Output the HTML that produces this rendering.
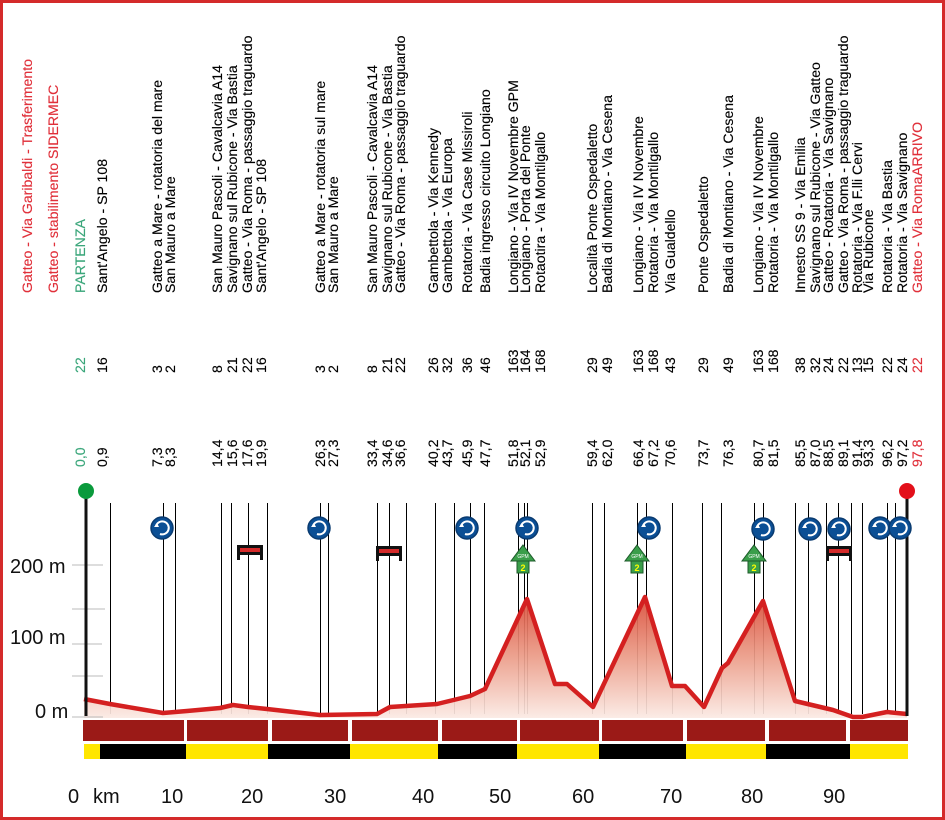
<!DOCTYPE html>
<html><head><meta charset="utf-8"><style>
html,body{margin:0;padding:0;background:#fff}
svg{display:block}
.t{font-family:"Liberation Sans",sans-serif;font-size:14.1px;fill:#000;stroke:#000;stroke-width:0.15}
.ax{font-family:"Liberation Sans",sans-serif;font-size:20px;fill:#111}
</style></head><body>
<svg width="945" height="820" viewBox="0 0 945 820" xmlns="http://www.w3.org/2000/svg">
<defs>
<linearGradient id="g" gradientUnits="userSpaceOnUse" x1="0" y1="595" x2="0" y2="718">
<stop offset="0" stop-color="#d94a36"/><stop offset="0.5" stop-color="#eb9c88"/><stop offset="1" stop-color="#fbeae4"/>
</linearGradient>
<g id="rb"><circle r="11" fill="#0b4f95" stroke="#0a3b70" stroke-width="1.5"/><path d="M-6,-2 A6.5,6.5 0 1 1 -2,6" fill="none" stroke="#fff" stroke-width="2"/><path d="M-8,-1 L-5,-5 L-3,-1Z" fill="#fff"/></g>
<g id="bar"><rect x="-13" y="-6" width="26" height="10" fill="#111"/><rect x="-10" y="-3" width="20" height="4" fill="#d42a2a"/><rect x="-13" y="3" width="3" height="6" fill="#111"/><rect x="10" y="3" width="3" height="6" fill="#111"/></g>
<g id="gpm"><path d="M0,-14 L12,2 L-12,2Z" fill="#3a9e4a" stroke="#1d5a2a"/><rect x="-6" y="2" width="12" height="12" fill="#3a9e4a" stroke="#1d5a2a"/><text x="0" y="-1" font-size="5" fill="#fff" text-anchor="middle" font-family="Liberation Sans">GPM</text><text x="0" y="12" font-size="9" fill="#ff0" text-anchor="middle" font-family="Liberation Sans" font-weight="bold">2</text></g>
</defs>
<rect x="1.5" y="1.5" width="942" height="817" fill="none" stroke="#d42a2a" stroke-width="3"/>

<g stroke="#000" stroke-width="1" transform="translate(0.5,0)">
<line x1="110" y1="503" x2="110" y2="714"/><line x1="163" y1="503" x2="163" y2="714"/><line x1="175" y1="503" x2="175" y2="714"/>
<line x1="221" y1="503" x2="221" y2="714"/><line x1="231" y1="503" x2="231" y2="714"/><line x1="248" y1="503" x2="248" y2="714"/><line x1="267" y1="503" x2="267" y2="714"/>
<line x1="320" y1="503" x2="320" y2="714"/><line x1="328" y1="503" x2="328" y2="714"/>
<line x1="377" y1="503" x2="377" y2="714"/><line x1="389" y1="503" x2="389" y2="714"/><line x1="406" y1="503" x2="406" y2="714"/>
<line x1="435" y1="503" x2="435" y2="714"/><line x1="454" y1="503" x2="454" y2="714"/><line x1="470" y1="503" x2="470" y2="714"/><line x1="484" y1="503" x2="484" y2="714"/>
<line x1="518" y1="503" x2="518" y2="714"/><line x1="524" y1="503" x2="524" y2="714"/><line x1="527" y1="503" x2="527" y2="714"/>
<line x1="592" y1="503" x2="592" y2="714"/><line x1="604" y1="503" x2="604" y2="714"/>
<line x1="637" y1="503" x2="637" y2="714"/><line x1="646" y1="503" x2="646" y2="714"/><line x1="672" y1="503" x2="672" y2="714"/>
<line x1="702" y1="503" x2="702" y2="714"/><line x1="721" y1="503" x2="721" y2="714"/>
<line x1="754" y1="503" x2="754" y2="714"/><line x1="763" y1="503" x2="763" y2="714"/>
<line x1="795" y1="503" x2="795" y2="714"/><line x1="808" y1="503" x2="808" y2="714"/><line x1="826" y1="503" x2="826" y2="714"/><line x1="838" y1="503" x2="838" y2="714"/>
<line x1="851" y1="503" x2="851" y2="714"/><line x1="862" y1="503" x2="862" y2="714"/><line x1="887" y1="503" x2="887" y2="714"/><line x1="895" y1="503" x2="895" y2="714"/>
</g>

<path d="M84,699 L110,704 L163,713 L187,711 L220,708 L233,705 L248,707 L267,709 L320,715 L377,714 L390,707 L437,704 L470,696 L485,689 L527,599 L555,684 L567,684 L593,707 L645,597 L672,686 L685,686 L704,707 L722,668 L728,663 L763,601 L795,701 L833,710 L853,717 L862,717 L887,712 L907,714 L907,718 L84,718Z" fill="url(#g)" opacity="0.93"/>
<path d="M84,699 L110,704 L163,713 L187,711 L220,708 L233,705 L248,707 L267,709 L320,715 L377,714 L390,707 L437,704 L470,696 L485,689 L527,599 L555,684 L567,684 L593,707 L645,597 L672,686 L685,686 L704,707 L722,668 L728,663 L763,601 L795,701 L833,710 L853,717 L862,717 L887,712 L907,714" fill="none" stroke="#d42020" stroke-width="4.5" stroke-linejoin="round"/>

<g stroke="#bbb" stroke-width="1"><line x1="72" y1="565" x2="103" y2="565"/><line x1="72" y1="609" x2="105" y2="609"/><line x1="72" y1="644" x2="102" y2="644"/><line x1="72" y1="676" x2="103" y2="676"/><line x1="72" y1="717" x2="103" y2="717"/></g>
<line x1="86" y1="492" x2="86" y2="716" stroke="#111" stroke-width="3"/>
<line x1="907" y1="492" x2="907" y2="716" stroke="#111" stroke-width="3"/>
<circle cx="86" cy="491" r="8" fill="#0a9a3c"/>
<circle cx="907" cy="491" r="8" fill="#e3101a"/>
<text class="ax" x="10" y="573">200 m</text>
<text class="ax" x="10" y="644">100 m</text>
<text class="ax" x="35" y="718">0 m</text>

<g fill="#9b1a17">
<rect x="83" y="720" width="101" height="21"/><rect x="187" y="720" width="81" height="21"/><rect x="272" y="720" width="76" height="21"/><rect x="352" y="720" width="86" height="21"/><rect x="442" y="720" width="75" height="21"/><rect x="520" y="720" width="79" height="21"/><rect x="602" y="720" width="81" height="21"/><rect x="687" y="720" width="78" height="21"/><rect x="769" y="720" width="77" height="21"/><rect x="850" y="720" width="58" height="21"/>
</g>
<g>
<rect x="84" y="744" width="16" height="15" fill="#ffe600"/><rect x="100" y="744" width="86" height="15" fill="#000"/><rect x="186" y="744" width="82" height="15" fill="#ffe600"/><rect x="268" y="744" width="82" height="15" fill="#000"/><rect x="350" y="744" width="88" height="15" fill="#ffe600"/><rect x="438" y="744" width="79" height="15" fill="#000"/><rect x="517" y="744" width="82" height="15" fill="#ffe600"/><rect x="599" y="744" width="87" height="15" fill="#000"/><rect x="686" y="744" width="80" height="15" fill="#ffe600"/><rect x="766" y="744" width="84" height="15" fill="#000"/><rect x="850" y="744" width="58" height="15" fill="#ffe600"/>
</g>
<g class="ax"><text x="68" y="803">0</text><text x="93" y="803">km</text><text x="161" y="803">10</text><text x="241" y="803">20</text><text x="324" y="803">30</text><text x="412" y="803">40</text><text x="489" y="803">50</text><text x="572" y="803">60</text><text x="660" y="803">70</text><text x="741" y="803">80</text><text x="823" y="803">90</text></g>

<use href="#rb" x="162" y="528"/><use href="#rb" x="319" y="528"/><use href="#rb" x="467" y="528"/><use href="#rb" x="527" y="528"/><use href="#rb" x="649" y="528"/><use href="#rb" x="763" y="529"/><use href="#rb" x="810" y="529"/><use href="#rb" x="839" y="529"/><use href="#rb" x="880" y="528"/><use href="#rb" x="900" y="528"/>
<use href="#bar" x="250" y="551"/><use href="#bar" x="389" y="552"/><use href="#bar" x="839" y="552"/>
<use href="#gpm" x="523" y="559"/><use href="#gpm" x="637" y="559"/><use href="#gpm" x="754" y="559"/>

<g class="t">
<text transform="translate(32,293) rotate(-90)" fill="#e0303a" stroke="#e0303a">Gatteo - Via Garibaldi - Trasferimento</text>
<text transform="translate(58,293) rotate(-90)" fill="#e0303a" stroke="#e0303a">Gatteo - stabilimento SIDERMEC</text>
<text transform="translate(85,293) rotate(-90)" fill="#3aa67a" stroke="#3aa67a">PARTENZA</text>
<text transform="translate(85,373) rotate(-90)" fill="#3aa67a" stroke="#3aa67a">22</text>
<text transform="translate(85,467) rotate(-90)" fill="#3aa67a" stroke="#3aa67a">0,0</text>
</g>
<g class="t">
<text transform="translate(107,293) rotate(-90)">Sant'Angelo - SP 108</text><text transform="translate(107,373) rotate(-90)">16</text><text transform="translate(107,467) rotate(-90)">0,9</text>
<text transform="translate(162,293) rotate(-90)">Gatteo a Mare - rotatoria del mare</text><text transform="translate(162,373) rotate(-90)">3</text><text transform="translate(162,467) rotate(-90)">7,3</text>
<text transform="translate(175,293) rotate(-90)">San Mauro a Mare</text><text transform="translate(175,373) rotate(-90)">2</text><text transform="translate(175,467) rotate(-90)">8,3</text>
<text transform="translate(222,293) rotate(-90)">San Mauro Pascoli - Cavalcavia A14</text><text transform="translate(222,373) rotate(-90)">8</text><text transform="translate(222,467) rotate(-90)">14,4</text>
<text transform="translate(237,293) rotate(-90)">Savignano sul Rubicone - Via Bastia</text><text transform="translate(237,373) rotate(-90)">21</text><text transform="translate(237,467) rotate(-90)">15,6</text>
<text transform="translate(252,293) rotate(-90)">Gatteo - Via Roma - passaggio traguardo</text><text transform="translate(252,373) rotate(-90)">22</text><text transform="translate(252,467) rotate(-90)">17,6</text>
<text transform="translate(266,293) rotate(-90)">Sant'Angelo - SP 108</text><text transform="translate(266,373) rotate(-90)">16</text><text transform="translate(266,467) rotate(-90)">19,9</text>
<text transform="translate(325,293) rotate(-90)">Gatteo a Mare - rotatoria sul mare</text><text transform="translate(325,373) rotate(-90)">3</text><text transform="translate(325,467) rotate(-90)">26,3</text>
<text transform="translate(338,293) rotate(-90)">San Mauro a Mare</text><text transform="translate(338,373) rotate(-90)">2</text><text transform="translate(338,467) rotate(-90)">27,3</text>
<text transform="translate(377,293) rotate(-90)">San Mauro Pascoli - Cavalcavia A14</text><text transform="translate(377,373) rotate(-90)">8</text><text transform="translate(377,467) rotate(-90)">33,4</text>
<text transform="translate(392,293) rotate(-90)">Savignano sul Rubicone - Via Bastia</text><text transform="translate(392,373) rotate(-90)">21</text><text transform="translate(392,467) rotate(-90)">34,6</text>
<text transform="translate(405,293) rotate(-90)">Gatteo - Via Roma - passaggio traguardo</text><text transform="translate(405,373) rotate(-90)">22</text><text transform="translate(405,467) rotate(-90)">36,6</text>
<text transform="translate(438,293) rotate(-90)">Gambettola - Via Kennedy</text><text transform="translate(438,373) rotate(-90)">26</text><text transform="translate(438,467) rotate(-90)">40,2</text>
<text transform="translate(452,293) rotate(-90)">Gambettola - Via Europa</text><text transform="translate(452,373) rotate(-90)">32</text><text transform="translate(452,467) rotate(-90)">43,7</text>
<text transform="translate(472,293) rotate(-90)">Rotatoria - Via Case Missiroli</text><text transform="translate(472,373) rotate(-90)">36</text><text transform="translate(472,467) rotate(-90)">45,9</text>
<text transform="translate(490,293) rotate(-90)">Badia ingresso circuito Longiano</text><text transform="translate(490,373) rotate(-90)">46</text><text transform="translate(490,467) rotate(-90)">47,7</text>
<text transform="translate(518,293) rotate(-90)">Longiano - Via IV Novembre GPM</text><text transform="translate(518,373) rotate(-90)">163</text><text transform="translate(518,467) rotate(-90)">51,8</text>
<text transform="translate(530,293) rotate(-90)">Longiano - Porta del Ponte</text><text transform="translate(530,373) rotate(-90)">164</text><text transform="translate(530,467) rotate(-90)">52,1</text>
<text transform="translate(545,293) rotate(-90)">Rotaotira - Via Montilgallo</text><text transform="translate(545,373) rotate(-90)">168</text><text transform="translate(545,467) rotate(-90)">52,9</text>
<text transform="translate(597,293) rotate(-90)">Località Ponte Ospedaletto</text><text transform="translate(597,373) rotate(-90)">29</text><text transform="translate(597,467) rotate(-90)">59,4</text>
<text transform="translate(612,293) rotate(-90)">Badia di Montiano - Via Cesena</text><text transform="translate(612,373) rotate(-90)">49</text><text transform="translate(612,467) rotate(-90)">62,0</text>
<text transform="translate(643,293) rotate(-90)">Longiano - Via IV Novembre</text><text transform="translate(643,373) rotate(-90)">163</text><text transform="translate(643,467) rotate(-90)">66,4</text>
<text transform="translate(658,293) rotate(-90)">Rotatoria - Via Montilgallo</text><text transform="translate(658,373) rotate(-90)">168</text><text transform="translate(658,467) rotate(-90)">67,2</text>
<text transform="translate(675,293) rotate(-90)">Via Gualdello</text><text transform="translate(675,373) rotate(-90)">43</text><text transform="translate(675,467) rotate(-90)">70,6</text>
<text transform="translate(708,293) rotate(-90)">Ponte Ospedaletto</text><text transform="translate(708,373) rotate(-90)">29</text><text transform="translate(708,467) rotate(-90)">73,7</text>
<text transform="translate(733,293) rotate(-90)">Badia di Montiano - Via Cesena</text><text transform="translate(733,373) rotate(-90)">49</text><text transform="translate(733,467) rotate(-90)">76,3</text>
<text transform="translate(763,293) rotate(-90)">Longiano - Via IV Novembre</text><text transform="translate(763,373) rotate(-90)">163</text><text transform="translate(763,467) rotate(-90)">80,7</text>
<text transform="translate(778,293) rotate(-90)">Rotatoria - Via Montilgallo</text><text transform="translate(778,373) rotate(-90)">168</text><text transform="translate(778,467) rotate(-90)">81,5</text>
<text transform="translate(805,293) rotate(-90)">Innesto SS 9 - Via Emilia</text><text transform="translate(805,373) rotate(-90)">38</text><text transform="translate(805,467) rotate(-90)">85,5</text>
<text transform="translate(820,293) rotate(-90)">Savignano sul Rubicone - Via Gatteo</text><text transform="translate(820,373) rotate(-90)">32</text><text transform="translate(820,467) rotate(-90)">87,0</text>
<text transform="translate(833,293) rotate(-90)">Gatteo - Rotatoria - Via Savignano</text><text transform="translate(833,373) rotate(-90)">24</text><text transform="translate(833,467) rotate(-90)">88,5</text>
<text transform="translate(848,293) rotate(-90)">Gatteo - Via Roma - passaggio traguardo</text><text transform="translate(848,373) rotate(-90)">22</text><text transform="translate(848,467) rotate(-90)">89,1</text>
<text transform="translate(862,293) rotate(-90)">Rotatoria - Via F.lli Cervi</text><text transform="translate(862,373) rotate(-90)">13</text><text transform="translate(862,467) rotate(-90)">91,4</text>
<text transform="translate(873,293) rotate(-90)">Via Rubicone</text><text transform="translate(873,373) rotate(-90)">15</text><text transform="translate(873,467) rotate(-90)">93,3</text>
<text transform="translate(892,293) rotate(-90)">Rotatoria - Via Bastia</text><text transform="translate(892,373) rotate(-90)">22</text><text transform="translate(892,467) rotate(-90)">96,2</text>
<text transform="translate(907,293) rotate(-90)">Rotatoria - Via Savignano</text><text transform="translate(907,373) rotate(-90)">24</text><text transform="translate(907,467) rotate(-90)">97,2</text>
<text transform="translate(922,293) rotate(-90)" fill="#e0303a" stroke="#e0303a">Gatteo - Via Roma</text>
<text transform="translate(922,176) rotate(-90)" fill="#e0303a" stroke="#e0303a">ARRIVO</text>
<text transform="translate(922,373) rotate(-90)" fill="#e0303a" stroke="#e0303a">22</text><text transform="translate(922,467) rotate(-90)" fill="#e0303a" stroke="#e0303a">97,8</text>
</g>
</svg>
</body></html>
